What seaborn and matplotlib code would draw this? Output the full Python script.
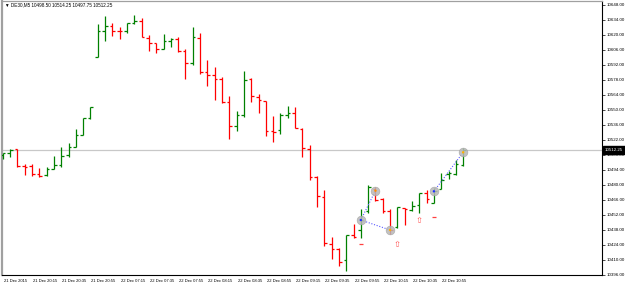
import numpy as np
import pandas as pd
import matplotlib
matplotlib.use("Agg")
import matplotlib.pyplot as plt
import matplotlib.transforms as mtransforms
import seaborn as sns

symbol = "DE30,M5"

# DE30 M5 bars
opens = [10507.6, 10509.4, 10512.9, 10497.6, 10497.3, 10489.9, 10488.5, 10494.2,
         10498.0, 10507.6, 10515.3, 10526.2, 10542.1, 10599.3, 10623.6, 10627.9,
         10623.6, 10623.6, 10631.0, 10632.9, 10616.5, 10611.8, 10606.2, 10614.2,
         10615.5, 10604.9, 10593.1, 10616.5, 10585.3, 10581.8, 10578.2, 10557.3,
         10534.4, 10544.6, 10578.5, 10562.0, 10558.2, 10530.0, 10530.9, 10544.9,
         10547.0, 10532.1, 10512.9, 10486.8, 10468.7, 10424.5, 10419.6, 10409.6,
         10432.9, 10437.6, 10455.6, 10475.6, 10466.3, 10455.6, 10440.1, 10457.8,
         10456.3, 10460.9, 10472.1, 10463.1, 10475.6, 10489.6, 10489.6, 10498.50]
highs = [10509.9, 10512.9, 10513.2, 10499.2, 10499.2, 10495.5, 10496.7, 10506.9,
         10515.3, 10518.8, 10531.8, 10542.4, 10552.6, 10630.3, 10637.3, 10631.0,
         10627.3, 10631.0, 10638.2, 10635.4, 10619.5, 10611.8, 10620.5, 10616.5,
         10618.0, 10606.2, 10626.7, 10621.7, 10596.2, 10590.0, 10580.1, 10562.6,
         10548.9, 10586.0, 10579.1, 10564.2, 10558.2, 10544.0, 10547.0, 10553.3,
         10552.6, 10532.5, 10516.9, 10488.0, 10474.9, 10431.4, 10420.5, 10432.9,
         10443.2, 10457.2, 10479.6, 10478.0, 10467.2, 10456.9, 10459.3, 10458.4,
         10464.7, 10471.8, 10474.9, 10477.1, 10491.1, 10492.7, 10502.9, 10514.25]
lows = [10503.9, 10506.0, 10496.7, 10488.9, 10488.3, 10487.3, 10488.3, 10494.2,
        10496.7, 10505.7, 10515.0, 10526.2, 10541.5, 10598.7, 10614.2, 10618.9,
        10615.5, 10621.7, 10629.8, 10617.4, 10604.9, 10602.5, 10606.2, 10608.1,
        10604.0, 10578.2, 10591.6, 10582.9, 10572.2, 10558.9, 10556.4, 10522.8,
        10529.7, 10543.3, 10557.3, 10547.0, 10525.3, 10520.0, 10526.9, 10541.8,
        10532.5, 10506.0, 10484.3, 10458.8, 10422.7, 10410.3, 10404.0, 10399.6,
        10429.9, 10429.9, 10453.8, 10464.7, 10453.8, 10433.9, 10439.2, 10442.3,
        10455.3, 10453.8, 10462.5, 10462.5, 10475.6, 10484.9, 10488.9, 10497.75]
closes = [10509.4, 10512.7, 10497.3, 10496.7, 10489.9, 10488.3, 10494.2, 10498.3,
          10506.9, 10515.0, 10526.2, 10541.8, 10552.1, 10623.6, 10627.9, 10623.0,
          10623.0, 10630.5, 10632.9, 10617.4, 10611.8, 10606.2, 10613.7, 10615.5,
          10604.9, 10593.1, 10617.4, 10585.3, 10582.2, 10578.2, 10557.3, 10534.9,
          10544.6, 10577.6, 10562.6, 10558.9, 10530.0, 10529.5, 10544.9, 10547.0,
          10533.1, 10513.8, 10487.3, 10469.3, 10425.2, 10419.9, 10408.0, 10432.9,
          10431.4, 10446.9, 10477.4, 10465.6, 10455.3, 10437.6, 10459.3, 10456.9,
          10460.3, 10471.8, 10466.5, 10474.3, 10484.3, 10490.5, 10498.9, 10512.25]

time_labels = ["21 Dec 2015", "21 Dec 20:15", "21 Dec 20:35", "21 Dec 20:55",
               "22 Dec 07:15", "22 Dec 07:35", "22 Dec 07:55", "22 Dec 08:15",
               "22 Dec 08:35", "22 Dec 08:55", "22 Dec 09:15", "22 Dec 09:35",
               "22 Dec 09:55", "22 Dec 10:15", "22 Dec 10:35", "22 Dec 10:55"]
time_label_bars = [0, 4, 8, 12, 16, 20, 24, 28, 32, 36, 40, 44, 48, 52, 56, 60]
price_ticks = [10396, 10410, 10424, 10438, 10452, 10466, 10480, 10494, 10508,
               10522, 10536, 10550, 10564, 10578, 10592, 10606, 10620, 10634, 10648]
last_price = 10512.25

# zigzag points (gray circles) and the dotted links between them
pivot_bars = [49, 51, 53, 59, 63]
pivot_prices = [10446.9, 10474.3, 10437.6, 10473.7, 10510.1]
pivot_dots = ["#2030ff", "#ff8c00", "#ffb000", "#2030ff", "#ffb000"]
link_pairs = [(0, 1), (0, 2), (3, 4)]
# small red signal marks
dash_bars = [49, 59]
dash_prices = [10424.5, 10449.5]
arrow_bars = [54, 57]
arrow_prices = [10424.3, 10446.3]

sns.set_style("white")
plt.rcParams["font.family"] = ["Liberation Sans", "DejaVu Sans"]

bars = pd.DataFrame({"open": opens, "high": highs, "low": lows, "close": closes})
bars["idx"] = np.arange(len(bars))
bars["color"] = np.where(bars["close"] >= bars["open"], "#008000", "#ff0000")

fig = plt.figure(figsize=(6.25, 2.88), dpi=100)
ax = fig.add_axes([2 / 625, 13 / 288, 600 / 625, 274 / 288])

ax.axhline(last_price, color="#c8c8c8", lw=0.9, zorder=1)

tick_w = 0.36
lw = 0.9
ax.vlines(bars["idx"], bars["low"], bars["high"], colors=bars["color"], lw=lw, zorder=3)
ax.hlines(bars["open"], bars["idx"] - tick_w, bars["idx"], colors=bars["color"], lw=lw, zorder=3)
ax.hlines(bars["close"], bars["idx"], bars["idx"] + tick_w, colors=bars["color"], lw=lw, zorder=3)

piv = pd.DataFrame({"bar": pivot_bars, "price": pivot_prices})
for a, b in link_pairs:
    ax.plot([pivot_bars[a], pivot_bars[b]], [pivot_prices[a], pivot_prices[b]],
            color="#5a5aff", ls=(0, (1, 1.5)), lw=0.8, zorder=4)
sns.scatterplot(data=piv, x="bar", y="price", s=40, color="#b8b8b8", alpha=0.85,
                edgecolor="#a0a0a0", linewidth=0.4, ax=ax, zorder=5, legend=False)
ax.scatter(pivot_bars, pivot_prices, s=3, c=pivot_dots, linewidths=0, zorder=6)

ax.scatter(dash_bars, dash_prices, marker="_", s=8, color="#ff4040", linewidths=0.9, zorder=5)
for b, p in zip(arrow_bars, arrow_prices):
    ax.text(b, p, "⇧", color="#ff5050", fontsize=6, ha="center", va="center",
            family=["DejaVu Sans"], zorder=5)

ax.set_xlim(-0.1, 82.0)
ax.set_ylim(10395.6, 10651.3)
ax.set_xlabel("")
ax.set_ylabel("")

ax.yaxis.tick_right()
ax.set_yticks(price_ticks)
ax.set_yticklabels([f"{v:.2f}" for v in price_ticks])
ax.tick_params(axis="y", direction="out", length=2.2, width=0.5, pad=1.2,
               labelsize=3.2, colors="black")
ax.set_xticks(time_label_bars)
ax.set_xticklabels(time_labels)
ax.tick_params(axis="x", direction="out", length=2.6, width=0.5, pad=0.6,
               labelsize=3.0, colors="black")
shift = mtransforms.ScaledTranslation(1 / 100, 0, fig.dpi_scale_trans)
for lbl in ax.get_xticklabels():
    lbl.set_ha("left")
    lbl.set_transform(lbl.get_transform() + shift)

for side in ["left", "top"]:
    ax.spines[side].set_color("#a0a0a0")
ax.spines["left"].set_linewidth(1.6)
ax.spines["top"].set_linewidth(0.9)
for side in ["right", "bottom"]:
    ax.spines[side].set_color("black")
    ax.spines[side].set_linewidth(0.8)

trans = mtransforms.blended_transform_factory(ax.transAxes, ax.transData)
box_shift = mtransforms.ScaledTranslation(3 / 100, 0, fig.dpi_scale_trans)
ax.text(1.0, last_price, f"{last_price:.2f}", transform=trans + box_shift,
        ha="left", va="center", color="white", fontsize=3.2, zorder=10, clip_on=False,
        bbox=dict(boxstyle="square,pad=0.35", fc="black", ec="black"))

ax.text(3 / 600, 1 - 4 / 274,
        f"▼ {symbol} {opens[-1]:.2f} {highs[-1]:.2f} {lows[-1]:.2f} {closes[-1]:.2f}",
        transform=ax.transAxes, ha="left", va="center", fontsize=3.3, color="black")

fig.savefig("out.png", dpi=100)
